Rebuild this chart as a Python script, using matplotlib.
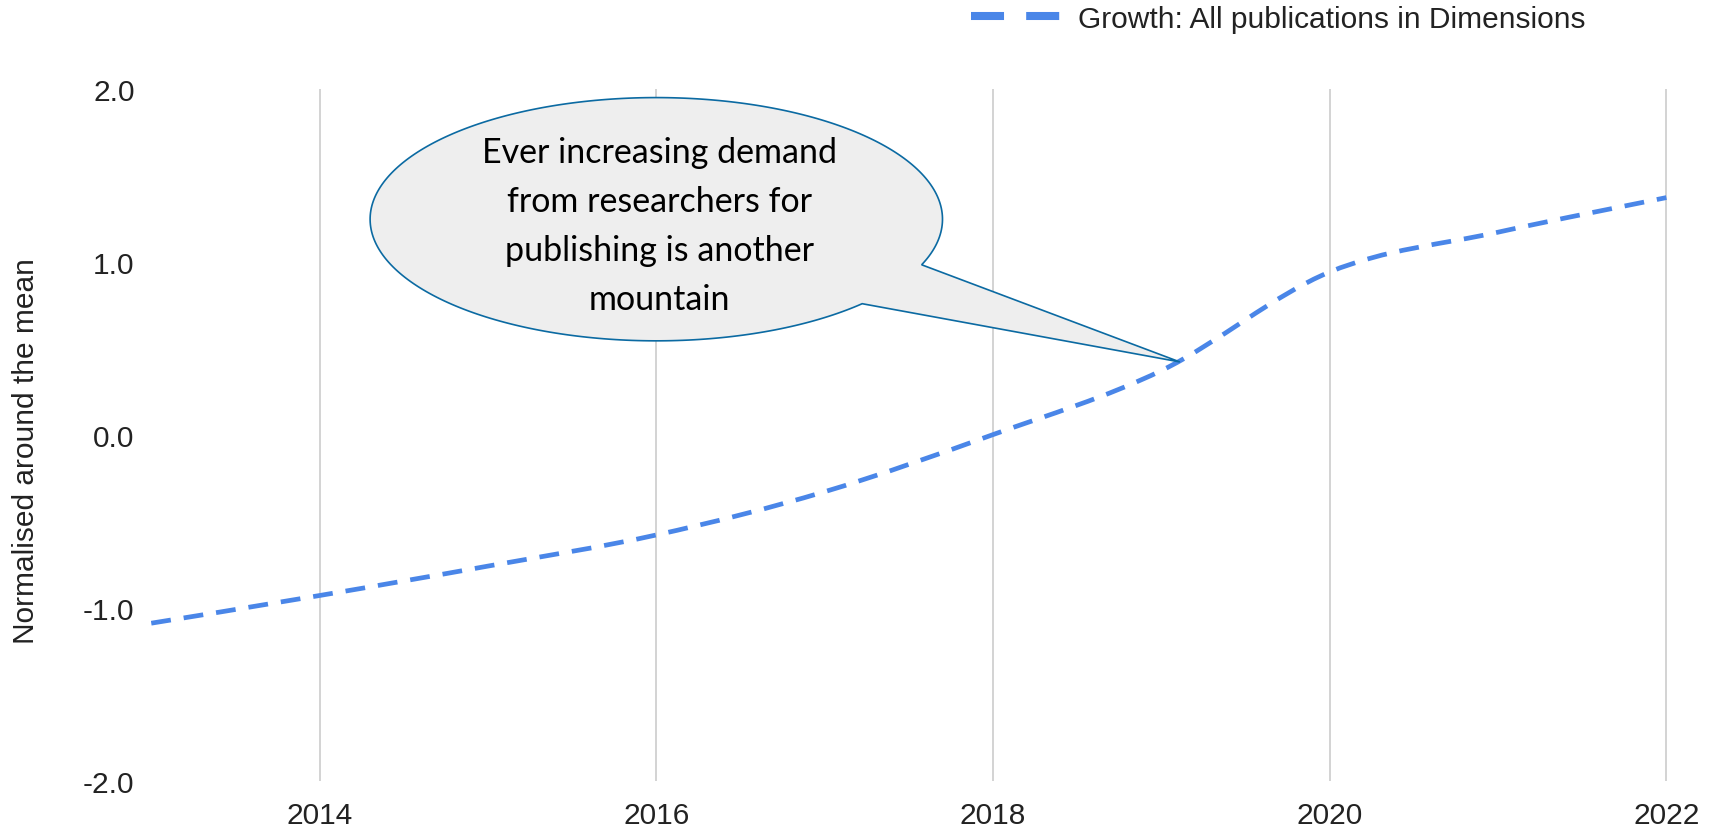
import matplotlib.pyplot as plt
import numpy as np
from matplotlib.path import Path
from matplotlib.patches import PathPatch
from matplotlib.lines import Line2D

# data
years = [2013, 2014, 2015, 2016, 2017, 2018, 2019, 2020, 2021, 2022]
growth = [-1.09, -0.93, -0.76, -0.58, -0.33, 0.0, 0.37, 0.94, 1.17, 1.37]
series_label = 'Growth: All publications in Dimensions'
y_label = 'Normalised around the mean'
x_ticks = [2014, 2016, 2018, 2020, 2022]
y_ticks = [-2.0, -1.0, 0.0, 1.0, 2.0]

callout_text = 'Ever increasing demand\nfrom researchers for\npublishing is another\nmountain'
callout_center = (2016.0, 1.245)
callout_radii = (1.70, 0.703)
callout_tail_angles = (-22.0, -44.0)
callout_tip = (2019.11, 0.42)

line_color = '#4a86e8'
text_color = '#222222'
plt.rcParams['font.family'] = ['Liberation Sans', 'DejaVu Sans']

fig = plt.figure(figsize=(17.11, 8.28), dpi=100)
ax = fig.add_axes([0.0884, 0.056, 0.8875, 0.8358])


def smooth_path(xs, ys):
    # catmull-rom style bezier through the points, like a "smooth" line
    pts = np.column_stack([xs, ys]).astype(float)
    ext = np.vstack([pts[0], pts, pts[-1]])
    verts = [pts[0]]
    codes = [Path.MOVETO]
    for i in range(1, len(ext) - 2):
        p0, p1, p2, p3 = ext[i - 1], ext[i], ext[i + 1], ext[i + 2]
        verts += [p1 + (p2 - p0) / 6, p2 - (p3 - p1) / 6, p2]
        codes += [Path.CURVE4] * 3
    return Path(verts, codes)


ax.add_patch(PathPatch(smooth_path(years, growth), fill=False, edgecolor=line_color,
                       lw=3.4, linestyle=(0, (4.2, 2.75)), capstyle='butt', zorder=3))

# speech bubble
cx, cy = callout_center
a, b = callout_radii
t_start, t_end = np.radians(callout_tail_angles[0]), np.radians(callout_tail_angles[1]) + 2 * np.pi
t = np.linspace(t_start, t_end, 300)
bubble = list(zip(cx + a * np.cos(t), cy + b * np.sin(t))) + [callout_tip]
ax.add_patch(plt.Polygon(bubble, closed=True, facecolor='#eeeeee', edgecolor='#0b6aa2',
                         lw=1.2, zorder=4, clip_on=False))
ax.text(cx + 0.02, 1.21, callout_text, family=['Lato', 'DejaVu Sans'], fontsize=24.5,
        ha='center', va='center', linespacing=1.66, color='black', zorder=5)

ax.set_xlim(2013, 2022.02)
ax.set_ylim(-2, 2)
ax.set_xticks(x_ticks)
ax.set_xticklabels([str(x) for x in x_ticks])
ax.set_yticks(y_ticks)
ax.set_yticklabels([f'{v:.1f}' for v in y_ticks])
ax.tick_params(axis='both', length=0, labelsize=21.5, labelcolor=text_color)
ax.tick_params(axis='y', pad=12)
ax.tick_params(axis='x', pad=15)
ax.grid(axis='x', color='#cccccc', lw=1.2)
ax.set_axisbelow(True)
for s in ax.spines.values():
    s.set_visible(False)

ax.set_ylabel(y_label, fontsize=21.5, color=text_color)
ax.yaxis.set_label_coords(-0.0733, 0.478)

handle = Line2D([], [], color=line_color, lw=5.8, linestyle=(0, (4.1, 2.75)))
fig.legend([handle], [series_label], loc='center left', bbox_to_anchor=(0.5675, 0.9763),
           frameon=False, fontsize=21.5, handlelength=3.1, handletextpad=0.47,
           borderpad=0, borderaxespad=0, labelcolor=text_color)

fig.savefig('out.png', dpi=100)
